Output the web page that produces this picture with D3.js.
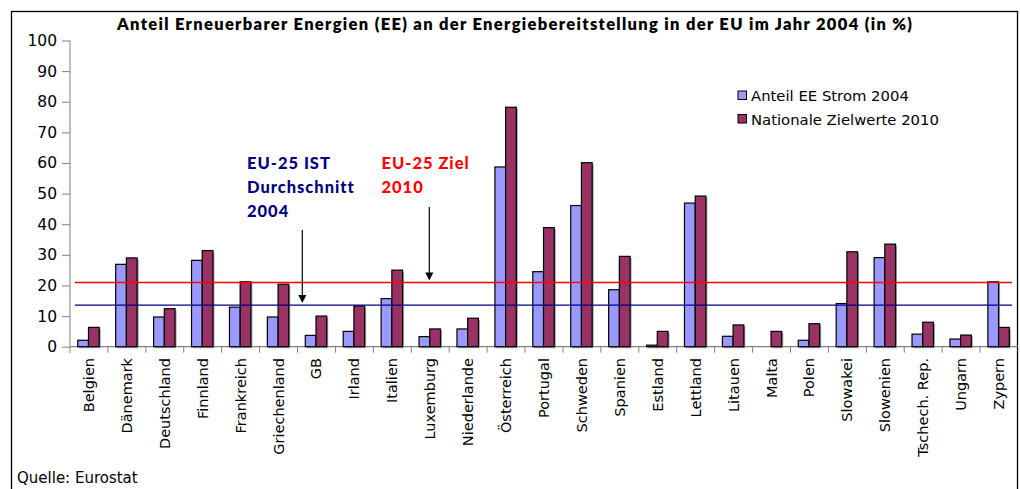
<!DOCTYPE html>
<html><head><meta charset="utf-8">
<script src="https://cdn.jsdelivr.net/npm/d3@7"></script>
<style>body{margin:0;background:#fff}svg{display:block;font-family:"DejaVu Sans",sans-serif}</style>
</head><body>
<svg id="c" width="1020" height="489"></svg>
<script>
const countries = ["Belgien","Dänemark","Deutschland","Finnland","Frankreich","Griechenland","GB","Irland","Italien","Luxemburg","Niederlande","Österreich","Portugal","Schweden","Spanien","Estland","Lettland","Litauen","Malta","Polen","Slowakei","Slowenien","Tschech. Rep.","Ungarn","Zypern"];
const ee2004 = [2.1,26.9,9.7,28.2,12.9,9.7,3.7,5.0,15.7,3.3,5.8,58.7,24.5,46.1,18.6,0.5,46.9,3.4,0,2.1,14.1,29.1,4.1,2.5,21.2];
const ziel2010 = [6.3,29.0,12.4,31.4,21.2,20.4,10.0,13.3,25.0,5.8,9.3,78.2,38.9,60.1,29.5,5.0,49.2,7.1,5.0,7.5,31.0,33.5,8.0,3.8,6.3];
const seriesNames = ["Anteil EE Strom 2004","Nationale Zielwerte 2010"];
const yTicks = [0,10,20,30,40,50,60,70,80,90,100];
const euAvg2004 = 13.6;
const euTarget2010 = 21.0;
const titleText = "Anteil Erneuerbarer Energien (EE) an der Energiebereitstellung in der EU im Jahr 2004 (in %)";
const sourceText = "Quelle: Eurostat";

const svg = d3.select("#c");
const colors = ["#9999FF","#993366"];

// frame
svg.append("rect").attr("x",11.5).attr("y",11.5).attr("width",1006).attr("height",490)
  .attr("fill","none").attr("stroke","#000").attr("stroke-width",1.3);

const x = d3.scaleBand().domain(countries).range([70,1018]).padding(0);
const y = d3.scaleLinear().domain([0,100]).range([346.7,40.5]);
const xi = d3.scaleBand().domain([0,1]).range([x.bandwidth()*0.205, x.bandwidth()*0.77]);

function fit(sel, w){
  const n = sel.node(); const fs = parseFloat(sel.attr("font-size"));
  const cur = n.getComputedTextLength();
  sel.attr("font-size", fs*w/cur);
}
function spacing(sel, w){
  const n = sel.node(); const cur = n.getComputedTextLength();
  const ls = (w-cur)/Math.max(1,sel.text().length-1);
  return ls;
}

// title
const t = svg.append("text").attr("x",117).attr("y",30)
  .style("font-family","Lato").attr("font-weight",800).attr("font-size",16.5).text(titleText);
t.attr("letter-spacing", spacing(t,795));

// y axis
const yAxis = svg.append("g").attr("transform","translate(70,0)")
  .call(d3.axisLeft(y).tickValues(yTicks).tickSize(8).tickPadding(5));
yAxis.attr("font-family",null).attr("font-size",null);
yAxis.select(".domain").attr("stroke","#808080").attr("d","M-0,40.5V353");
yAxis.selectAll(".tick line").attr("stroke","#808080");
yAxis.selectAll(".tick text").attr("font-size",15.5).attr("fill","#000").style("font-family","DejaVu Sans");

// x axis line + ticks at band boundaries
svg.append("line").attr("x1",70).attr("x2",1018).attr("y1",y(0)).attr("y2",y(0)).attr("stroke","#808080").attr("stroke-width",1.3);
svg.append("g").selectAll("line").data(countries.slice(1)).join("line")
  .attr("x1",d=>x(d)).attr("x2",d=>x(d)).attr("y1",y(0)).attr("y2",y(0)+6)
  .attr("stroke","#808080");

// bars
const data = countries.map((c,i)=>({c, v:[ee2004[i], ziel2010[i]]}));
const g = svg.append("g");
const groups = g.selectAll("g").data(data).join("g").attr("transform",d=>`translate(${x(d.c)},0)`);
groups.selectAll("rect.sh").data(d=>d.v.map((v,k)=>({v,k}))).join("rect").attr("class","sh")
  .filter(d=>d.v>0)
  .attr("x",d=>xi(d.k)+1.5).attr("y",d=>y(d.v)+1.5).attr("width",xi.bandwidth())
  .attr("height",d=>y(0)-y(d.v)).attr("fill","#a0a0a0");
groups.selectAll("rect.b").data(d=>d.v.map((v,k)=>({v,k}))).join("rect").attr("class","b")
  .attr("x",d=>xi(d.k)).attr("y",d=>y(d.v)).attr("width",xi.bandwidth())
  .attr("height",d=>y(0)-y(d.v)).attr("fill",d=>colors[d.k]).attr("stroke","#000").attr("stroke-width",1.2);

// x labels
svg.append("g").selectAll("text").data(countries).join("text")
  .attr("transform",d=>`translate(${x(d)+x.bandwidth()/2+5},358) rotate(-90)`)
  .attr("text-anchor","end").attr("font-size",14.5).text(d=>d);

// reference lines
svg.append("line").attr("x1",75).attr("x2",1012).attr("y1",y(euTarget2010)).attr("y2",y(euTarget2010)).attr("stroke","#FF0000").attr("stroke-width",1.5);
svg.append("line").attr("x1",75).attr("x2",1012).attr("y1",y(euAvg2004)).attr("y2",y(euAvg2004)).attr("stroke","#000080").attr("stroke-width",1.3);

// annotations
const annFs = 16.5;
const ann1 = ["EU-25 IST","Durchschnitt","2004"];
const a1 = svg.append("g");
let ls1 = 0;
ann1.forEach((s,i)=>{
  a1.append("text").attr("x",247).attr("y",169+i*24).style("font-family","Lato").attr("font-weight",900).attr("font-size",annFs).attr("fill","#000080").text(s);
});
ls1 = spacing(a1.selectAll("text").filter((d,i)=>i===1), 106);
a1.selectAll("text").attr("letter-spacing",ls1);
const ann2 = ["EU-25 Ziel","2010"];
const a2 = svg.append("g");
ann2.forEach((s,i)=>{
  a2.append("text").attr("x",381.5).attr("y",169+i*24).style("font-family","Lato").attr("font-weight",900).attr("font-size",annFs).attr("letter-spacing",ls1).attr("fill","#FF0000").text(s);
});

// arrows
function arrow(xp, y1, y2){
  svg.append("line").attr("x1",xp).attr("x2",xp).attr("y1",y1).attr("y2",y2-6).attr("stroke","#000").attr("stroke-width",1.2);
  svg.append("path").attr("d",`M${xp-4},${y2-8}L${xp+4},${y2-8}L${xp},${y2}Z`).attr("fill","#000");
}
arrow(302.3, 230, y(euAvg2004)-2);
arrow(429.3, 207, y(euTarget2010)-2);

// legend
const lg = svg.append("g");
seriesNames.forEach((s,i)=>{
  lg.append("rect").attr("x",738).attr("y",91+i*23.5).attr("width",8.5).attr("height",8.5)
    .attr("fill",colors[i]).attr("stroke","#000").attr("stroke-width",1);
  const tt = lg.append("text").attr("x",751).attr("y",101+i*23.5).attr("font-size",15).text(s);
  if(i===1) fit(tt,188);
});
const lfs = lg.selectAll("text").filter((d,i)=>i===1).attr("font-size");
lg.selectAll("text").attr("font-size",lfs);

// source
svg.append("text").attr("x",17).attr("y",483).attr("font-size",15).text(sourceText);
</script>
</body></html>
